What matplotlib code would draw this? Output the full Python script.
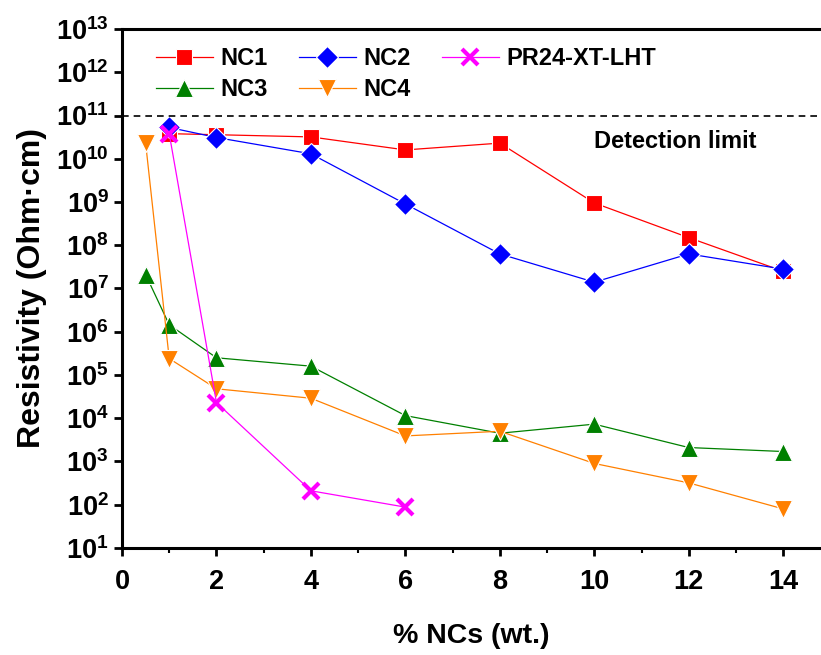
import matplotlib
matplotlib.use("Agg")
import matplotlib.pyplot as plt
import numpy as np

plt.rcParams['font.family'] = ['Liberation Sans', 'DejaVu Sans']
plt.rcParams['font.weight'] = 'bold'
plt.rcParams['mathtext.fontset'] = 'custom'
plt.rcParams['mathtext.rm'] = 'Liberation Sans:bold'
plt.rcParams['mathtext.bf'] = 'Liberation Sans:bold'

# data
x_nc12 = [1, 2, 4, 6, 8, 10, 12, 14]
nc1 = [3.8e10, 3.6e10, 3.2e10, 1.6e10, 2.3e10, 9.5e8, 1.5e8, 2.5e7]
nc2 = [5.3e10, 3.1e10, 1.3e10, 9.0e8, 6.3e7, 1.4e7, 6.3e7, 2.8e7]
x_nc34 = [0.5, 1, 2, 4, 6, 8, 10, 12, 14]
nc3 = [2.1e7, 1.45e6, 2.5e5, 1.6e5, 1.15e4, 4.5e3, 7.3e3, 2.1e3, 1.7e3]
nc4 = [2.3e10, 2.4e5, 4.8e4, 2.9e4, 3.9e3, 5.0e3, 9.0e2, 3.2e2, 80]
x_pr = [1, 2, 4, 6]
pr24 = [3.8e10, 2.3e4, 2.1e2, 88]
det_limit = 1e11

fig = plt.figure(figsize=(8.21, 6.55), dpi=100)
ax = fig.add_axes([0.1486, 0.1634, 0.8514, 0.7923])

kw = dict(lw=0.9, mec='white', mew=0.8)
l1, = ax.plot(x_nc12, nc1, '-s', color='#ff0000', ms=11, **kw, label='NC1')
l2, = ax.plot(x_nc12, nc2, '-D', color='#0000ff', ms=11, **kw, label='NC2')
l3, = ax.plot(x_nc34, nc3, '-^', color='#008000', ms=13, **kw, label='NC3')
l4, = ax.plot(x_nc34, nc4, '-v', color='#ff8000', ms=13, **kw, label='NC4')
l5, = ax.plot(x_pr, pr24, '-x', color='#ff00ff', lw=0.9, ms=11, mew=3, label='PR24-XT-LHT')

ax.axhline(det_limit, color='black', ls=(0, (4, 3)), lw=1.2)
ax.text(10.0, 2.5e10, 'Detection limit', fontsize=17, fontweight='bold', va='center')

ax.set_yscale('log')
ax.set_ylim(10, 1e13)
ax.set_xlim(0, 14.8)
ax.set_yticks([10.0 ** k for k in range(1, 14)])
ax.set_yticklabels([r'$\mathbf{10^{%d}}$' % k for k in range(1, 14)])
ax.set_xticks(range(0, 15, 2))
ax.set_xticks(range(1, 15, 2), minor=True)

for s in ['top', 'bottom', 'left']:
    ax.spines[s].set_linewidth(2.2)
ax.spines['right'].set_visible(False)
ax.tick_params(axis='both', which='major', labelsize=19.5, width=2, length=6, direction='out')
ax.tick_params(axis='x', which='major', pad=9)
ax.tick_params(axis='both', which='minor', width=1.5, length=3.5, direction='out')
for lab in ax.get_xticklabels():
    lab.set_fontweight('bold')

ax.set_xlabel('% NCs (wt.)', fontsize=20.5, fontweight='bold', labelpad=20)
ax.set_ylabel('Resistivity (Ohm·cm)', fontsize=23, fontweight='bold', labelpad=6)

ax.legend([l1, l3, l2, l4, l5], ['NC1', 'NC3', 'NC2', 'NC4', 'PR24-XT-LHT'],
          ncol=3, loc='upper left', bbox_to_anchor=(0.035, 0.984), borderaxespad=0,
          frameon=False, fontsize=17, handlelength=2.4, columnspacing=1.3,
          labelspacing=0.35, handletextpad=0.35)

fig.savefig('out.png', dpi=100)
